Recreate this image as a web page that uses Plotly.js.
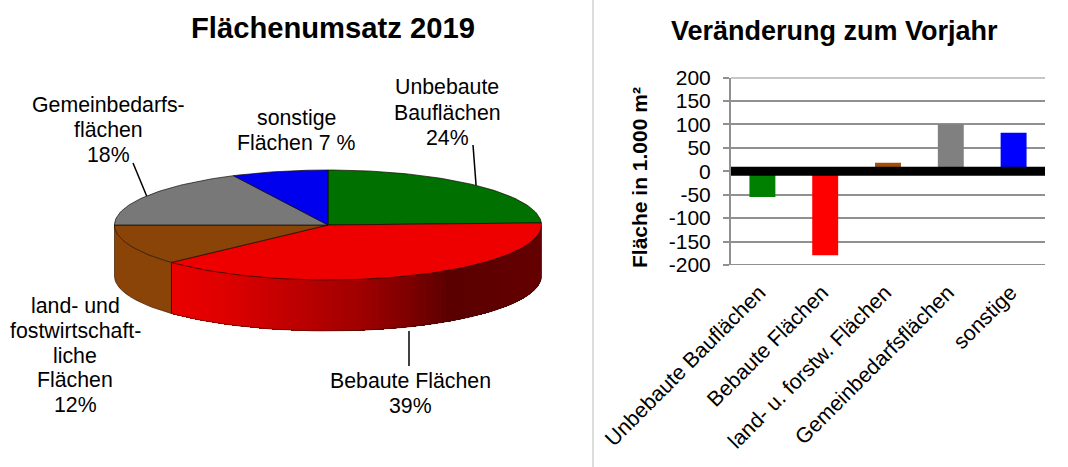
<!DOCTYPE html>
<html><head><meta charset="utf-8">
<script src="https://cdn.plot.ly/plotly-3.0.1.min.js"></script>
<style>html,body{margin:0;padding:0;background:#fff;overflow:hidden}</style>
</head><body><div id="chart" style="width:1068px;height:467px"></div>
<script>
// ---- data ----
const pieCategories = ["Unbebaute Bauflächen","Bebaute Flächen","land- und fostwirtschaftliche Flächen","Gemeinbedarfsflächen","sonstige Flächen"];
const pieShares = [24.4, 38.7, 11.9, 17.7, 7.3];
const pieColors = ["#007000","#EE0000","#8A4408","#787878","#0000EE"];
const pieLabelLines = [
  ["Unbebaute","Bauflächen","24%"],
  ["Bebaute Flächen","39%"],
  ["land- und","fostwirtschaft-","liche","Flächen","12%"],
  ["Gemeinbedarfs-","flächen","18%"],
  ["sonstige","Flächen 7 %"]
];
const barCategories = ["Unbebaute Bauflächen","Bebaute Flächen","land- u. forstw. Flächen","Gemeinbedarfsflächen","sonstige"];
const barValues = [-55, -179, 18, 100, 82];
const barColors = ["#008000","#FF0000","#A0500A","#808080","#0000FF"];
const yTicks = [-200,-150,-100,-50,0,50,100,150,200];

// ---- layout constants (pixels) ----
const W=1068,H=467, CX=328, CY=225, RX=213.5, RY=55, DEPTH=51, PIE_W=590;
const FONT='"Liberation Sans", Arial, sans-serif';
const px=x=>x/W, py=y=>1-y/H;
const ux=x=>(x-CX)/RX, uy=y=>(CY-y)/RY;
const d=DEPTH/RY;
const ex=a=>Math.sin(a*Math.PI/180), ey=a=>Math.cos(a*Math.PI/180);
const traces=[];

// slice angle boundaries, from the shares
const total=pieShares.reduce((a,b)=>a+b,0);
let acc=0; const bounds=[0];
pieShares.forEach(v=>{acc+=v;bounds.push(acc/total*360);});

const redStops=[[171,[235,0,0]],[225,[222,0,0]],[293,[190,0,0]],[360,[160,0,0]],[410,[125,0,0]],[450,[90,0,0]],[541,[100,0,0]]];
function redAt(x){
  for(let i=1;i<redStops.length;i++){
    if(x<=redStops[i][0]){
      const [x0,c0]=redStops[i-1],[x1,c1]=redStops[i];
      const t=(x-x0)/(x1-x0);
      return 'rgb('+c0.map((c,k)=>Math.round(c+(c1[k]-c)*t)).join(',')+')';
    }
  }
  return 'rgb(100,0,0)';
}
function addPoly(xs,ys,fill,line,lw){
  traces.push({type:'scatter',mode:'lines',x:xs,y:ys,fill:'toself',fillcolor:fill,
    line:{color:line,width:lw},hoverinfo:'skip',showlegend:false,xaxis:'x',yaxis:'y'});
}
function addLine(xs,ys,color,lw){
  traces.push({type:'scatter',mode:'lines',x:xs,y:ys,line:{color:color,width:lw},hoverinfo:'skip',showlegend:false,xaxis:'x',yaxis:'y'});
}
function sidePoly(a0,a1,n){
  const xs=[],ys=[];
  for(let i=0;i<=n;i++){const a=a0+(a1-a0)*i/n;xs.push(ex(a));ys.push(ey(a));}
  for(let i=n;i>=0;i--){const a=a0+(a1-a0)*i/n;xs.push(ex(a));ys.push(ey(a)-d);}
  xs.push(xs[0]);ys.push(ys[0]);
  return [xs,ys];
}
// side wall: red, painted back to front as overlapping sectors so that no seams show
const redStart=Math.max(bounds[1],90), redEnd=bounds[2];
const N=90;
for(let i=0;i<N;i++){
  const a0=redStart+(redEnd-redStart)*i/N;
  const a1=redStart+(redEnd-redStart)*(i+1)/N;
  const [xs,ys]=sidePoly(a0,redEnd,Math.max(2,N-i));
  addPoly(xs,ys,redAt(CX+RX*ex((a0+a1)/2)),'rgba(0,0,0,0)',0);
}
// side wall: brown
{const [xs,ys]=sidePoly(bounds[2],270,30);addPoly(xs,ys,pieColors[2],pieColors[2],0.5);}
// side wall outlines
const OUT='rgba(30,10,0,0.75)';
{const xs=[],ys=[];for(let a=90;a<=270;a+=2){xs.push(ex(a));ys.push(ey(a)-d);}addLine(xs,ys,'rgba(40,20,10,0.5)',1);}
addLine([ex(redEnd),ex(redEnd)],[ey(redEnd),ey(redEnd)-d],OUT,1);
addLine([ex(90),ex(90)],[ey(90),ey(90)-d],'rgba(40,20,10,0.5)',1);
addLine([ex(270),ex(270)],[ey(270),ey(270)-d],'rgba(40,20,10,0.5)',1);
// top face slices
pieShares.forEach((v,i)=>{
  const a0=bounds[i],a1=bounds[i+1],n=Math.ceil((a1-a0)/1.5),xs=[0],ys=[0];
  for(let k=0;k<=n;k++){const a=a0+(a1-a0)*k/n;xs.push(ex(a));ys.push(ey(a));}
  xs.push(0);ys.push(0);
  addPoly(xs,ys,pieColors[i],'rgba(20,10,0,0.7)',1);
});
// leader lines from slice midpoints to their labels
const mid=i=>(bounds[i]+bounds[i+1])/2;
addLine([ex(mid(0)),ux(473)],[ey(mid(0)),uy(145)],'#000',1.5);
addLine([ux(409),ux(409)],[uy(331),uy(366)],'#000',1.5);
addLine([ex(mid(3)),ux(133)],[ey(mid(3)),uy(163)],'#000',1.5);

// bars
traces.push({type:'bar',x:barCategories,y:barValues,marker:{color:barColors,line:{width:0}},
  xaxis:'x2',yaxis:'y2',hoverinfo:'skip',showlegend:false});

// annotations
const annotations=[];
function label(text,cx,cy,size,bold,angle){
  annotations.push({xref:'paper',yref:'paper',x:px(cx),y:py(cy),xanchor:'center',yanchor:'middle',showarrow:false,
    textangle:angle||0,text:bold?'<b>'+text+'</b>':text,font:{family:FONT,size:size,color:'#000'}});
}
label('Flächenumsatz 2019',333,28,29.2,true);
label('Veränderung zum Vorjahr',834,31,27,true);
label('Fläche in 1.000 m²',639,178,21,true,-90);
const labelCenters=[[447,87],[410,381],[75,306],[108,105],[296,118]];
const lineSteps=[25.5,25,24.8,25,25];
pieLabelLines.forEach((lines,i)=>{
  lines.forEach((t,k)=>label(t,labelCenters[i][0],labelCenters[i][1]+k*lineSteps[i],21.3,false));
});

const GRID='#909090';
const gridEnd=v=>({type:'line',xref:'x2 domain',yref:'y2',x0:0,x1:1,y0:v,y1:v,line:{color:GRID,width:2},layer:'below'});
const layout={
  width:W,height:H,margin:{l:0,r:0,t:0,b:0},paper_bgcolor:'#fff',plot_bgcolor:'rgba(0,0,0,0)',
  showlegend:false,hovermode:false,bargap:0.587,
  xaxis:{domain:[0,PIE_W/W],range:[ux(0),ux(PIE_W)],visible:false,fixedrange:true},
  yaxis:{domain:[0,1],range:[uy(H),uy(0)],visible:false,fixedrange:true},
  xaxis2:{domain:[px(731),px(1045)],anchor:'y2',type:'category',range:[-0.5,4.5],showgrid:false,zeroline:false,showline:false,
    ticks:'',tickangle:-45,ticklabelstandoff:10,ticklabelshift:-3,tickfont:{family:FONT,size:21.3,color:'#000'},automargin:false},
  yaxis2:{domain:[py(265),py(77.5)],anchor:'x2',range:[-200,200],tickvals:yTicks,ticktext:yTicks.map(String),
    showgrid:true,gridcolor:GRID,gridwidth:2,zeroline:false,showline:true,linecolor:GRID,linewidth:2,
    ticks:'outside',ticklen:6,tickcolor:GRID,tickwidth:2,ticklabelstandoff:8,
    tickfont:{family:FONT,size:21,color:'#000'},automargin:false},
  shapes:[
    {type:'line',xref:'paper',yref:'paper',x0:px(593),x1:px(593),y0:0,y1:1,line:{color:'#DCDCDC',width:2},layer:'below'},
    gridEnd(200),gridEnd(-200),
    {type:'line',xref:'x2 domain',yref:'y2',x0:0,x1:1,y0:0,y1:0,line:{color:'#000',width:9},layer:'above'}
  ],
  annotations:annotations
};
Plotly.newPlot('chart',traces,layout,{displayModeBar:false,staticPlot:true});
</script></body></html>
